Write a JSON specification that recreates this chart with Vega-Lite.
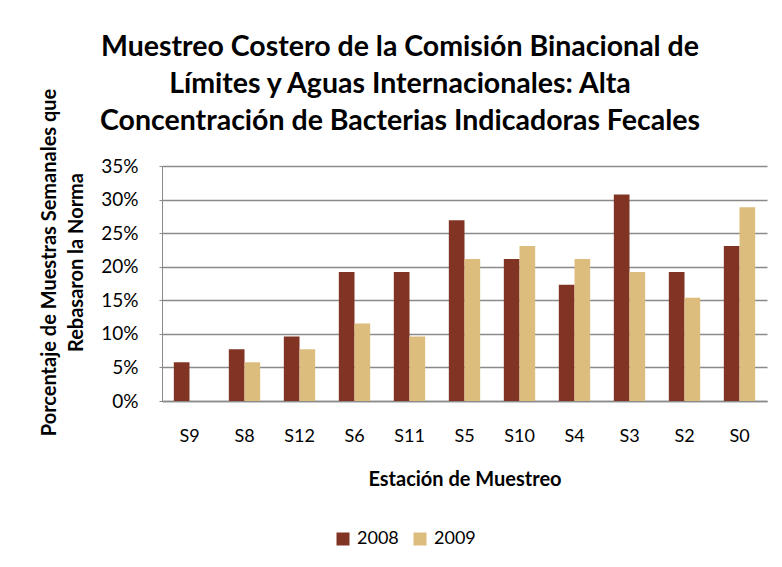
{
  "$schema": "https://vega.github.io/schema/vega-lite/v6.json",
  "width": 605,
  "height": 235,
  "autosize": {"type": "none"},
  "padding": {"left": 162, "top": 166, "right": 15, "bottom": 166},
  "background": "white",
  "title": {
    "text": ["Muestreo Costero de la Comisión Binacional de", "Límites y Aguas Internacionales: Alta", "Concentración de Bacterias Indicadoras Fecales"],
    "font": "Lato",
    "fontSize": 28.5,
    "fontWeight": "bold",
    "lineHeight": 37,
    "anchor": "middle",
    "frame": "bounds",
    "color": "black",
    "offset": 12,
    "dy": 59,
    "dx": -3
  },
  "config": {
    "view": {"stroke": null},
    "font": "Lato",
    "axis": {"labelFont": "Lato", "titleFont": "Lato", "labelColor": "black", "titleColor": "black"}
  },
  "data": {
    "values": [
      {"estacion": "S9", "year": "2008", "pct": 0.0577},
      {"estacion": "S8", "year": "2008", "pct": 0.0769},
      {"estacion": "S8", "year": "2009", "pct": 0.0577},
      {"estacion": "S12", "year": "2008", "pct": 0.0962},
      {"estacion": "S12", "year": "2009", "pct": 0.0769},
      {"estacion": "S6", "year": "2008", "pct": 0.1923},
      {"estacion": "S6", "year": "2009", "pct": 0.1154},
      {"estacion": "S11", "year": "2008", "pct": 0.1923},
      {"estacion": "S11", "year": "2009", "pct": 0.0962},
      {"estacion": "S5", "year": "2008", "pct": 0.2692},
      {"estacion": "S5", "year": "2009", "pct": 0.2115},
      {"estacion": "S10", "year": "2008", "pct": 0.2115},
      {"estacion": "S10", "year": "2009", "pct": 0.2308},
      {"estacion": "S4", "year": "2008", "pct": 0.1731},
      {"estacion": "S4", "year": "2009", "pct": 0.2115},
      {"estacion": "S3", "year": "2008", "pct": 0.3077},
      {"estacion": "S3", "year": "2009", "pct": 0.1923},
      {"estacion": "S2", "year": "2008", "pct": 0.1923},
      {"estacion": "S2", "year": "2009", "pct": 0.1538},
      {"estacion": "S0", "year": "2008", "pct": 0.2308},
      {"estacion": "S0", "year": "2009", "pct": 0.2885}
    ]
  },
  "mark": {"type": "bar"},
  "encoding": {
    "x": {
      "field": "estacion",
      "type": "nominal",
      "sort": null,
      "title": "Estación de Muestreo",
      "scale": {"paddingInner": 0.43, "paddingOuter": 0.215},
      "axis": {
        "labelAngle": 0,
        "ticks": false,
        "labelFontSize": 18,
        "labelPadding": 26,
        "titleFontSize": 20,
        "titleFontWeight": "bold",
        "titlePadding": 24,
        "domainColor": "#8a8a8a",
        "domainWidth": 1.5
      }
    },
    "xOffset": {"field": "year", "type": "nominal"},
    "y": {
      "field": "pct",
      "type": "quantitative",
      "scale": {"domain": [0, 0.35]},
      "axis": {
        "values": [0, 0.05, 0.1, 0.15, 0.2, 0.25, 0.3, 0.35],
        "format": ".0%",
        "labelFontSize": 19,
        "labelPadding": 21,
        "tickSize": 3,
        "tickColor": "#8a8a8a",
        "domainColor": "#8a8a8a",
        "gridColor": "#8a8a8a",
        "gridWidth": 1.3,
        "title": ["Porcentaje de Muestras Semanales que", "Rebasaron la Norma"],
        "titleFontSize": 20,
        "titleFontWeight": "bold",
        "titleLineHeight": 27,
        "titleAngle": -90,
        "titleAlign": "center",
        "titleBaseline": "top",
        "titleX": -123,
        "titleY": 96
      }
    },
    "color": {
      "field": "year",
      "type": "nominal",
      "scale": {"domain": ["2008", "2009"], "range": ["#823424", "#DDBD7D"]},
      "legend": {
        "orient": "none",
        "legendX": 172,
        "legendY": 364,
        "direction": "horizontal",
        "title": null,
        "labelFontSize": 18,
        "labelFont": "Lato",
        "labelColor": "black",
        "symbolType": "square",
        "symbolSize": 169,
        "symbolStrokeWidth": 0,
        "labelOffset": 5,
        "columnPadding": 12
      }
    }
  }
}
